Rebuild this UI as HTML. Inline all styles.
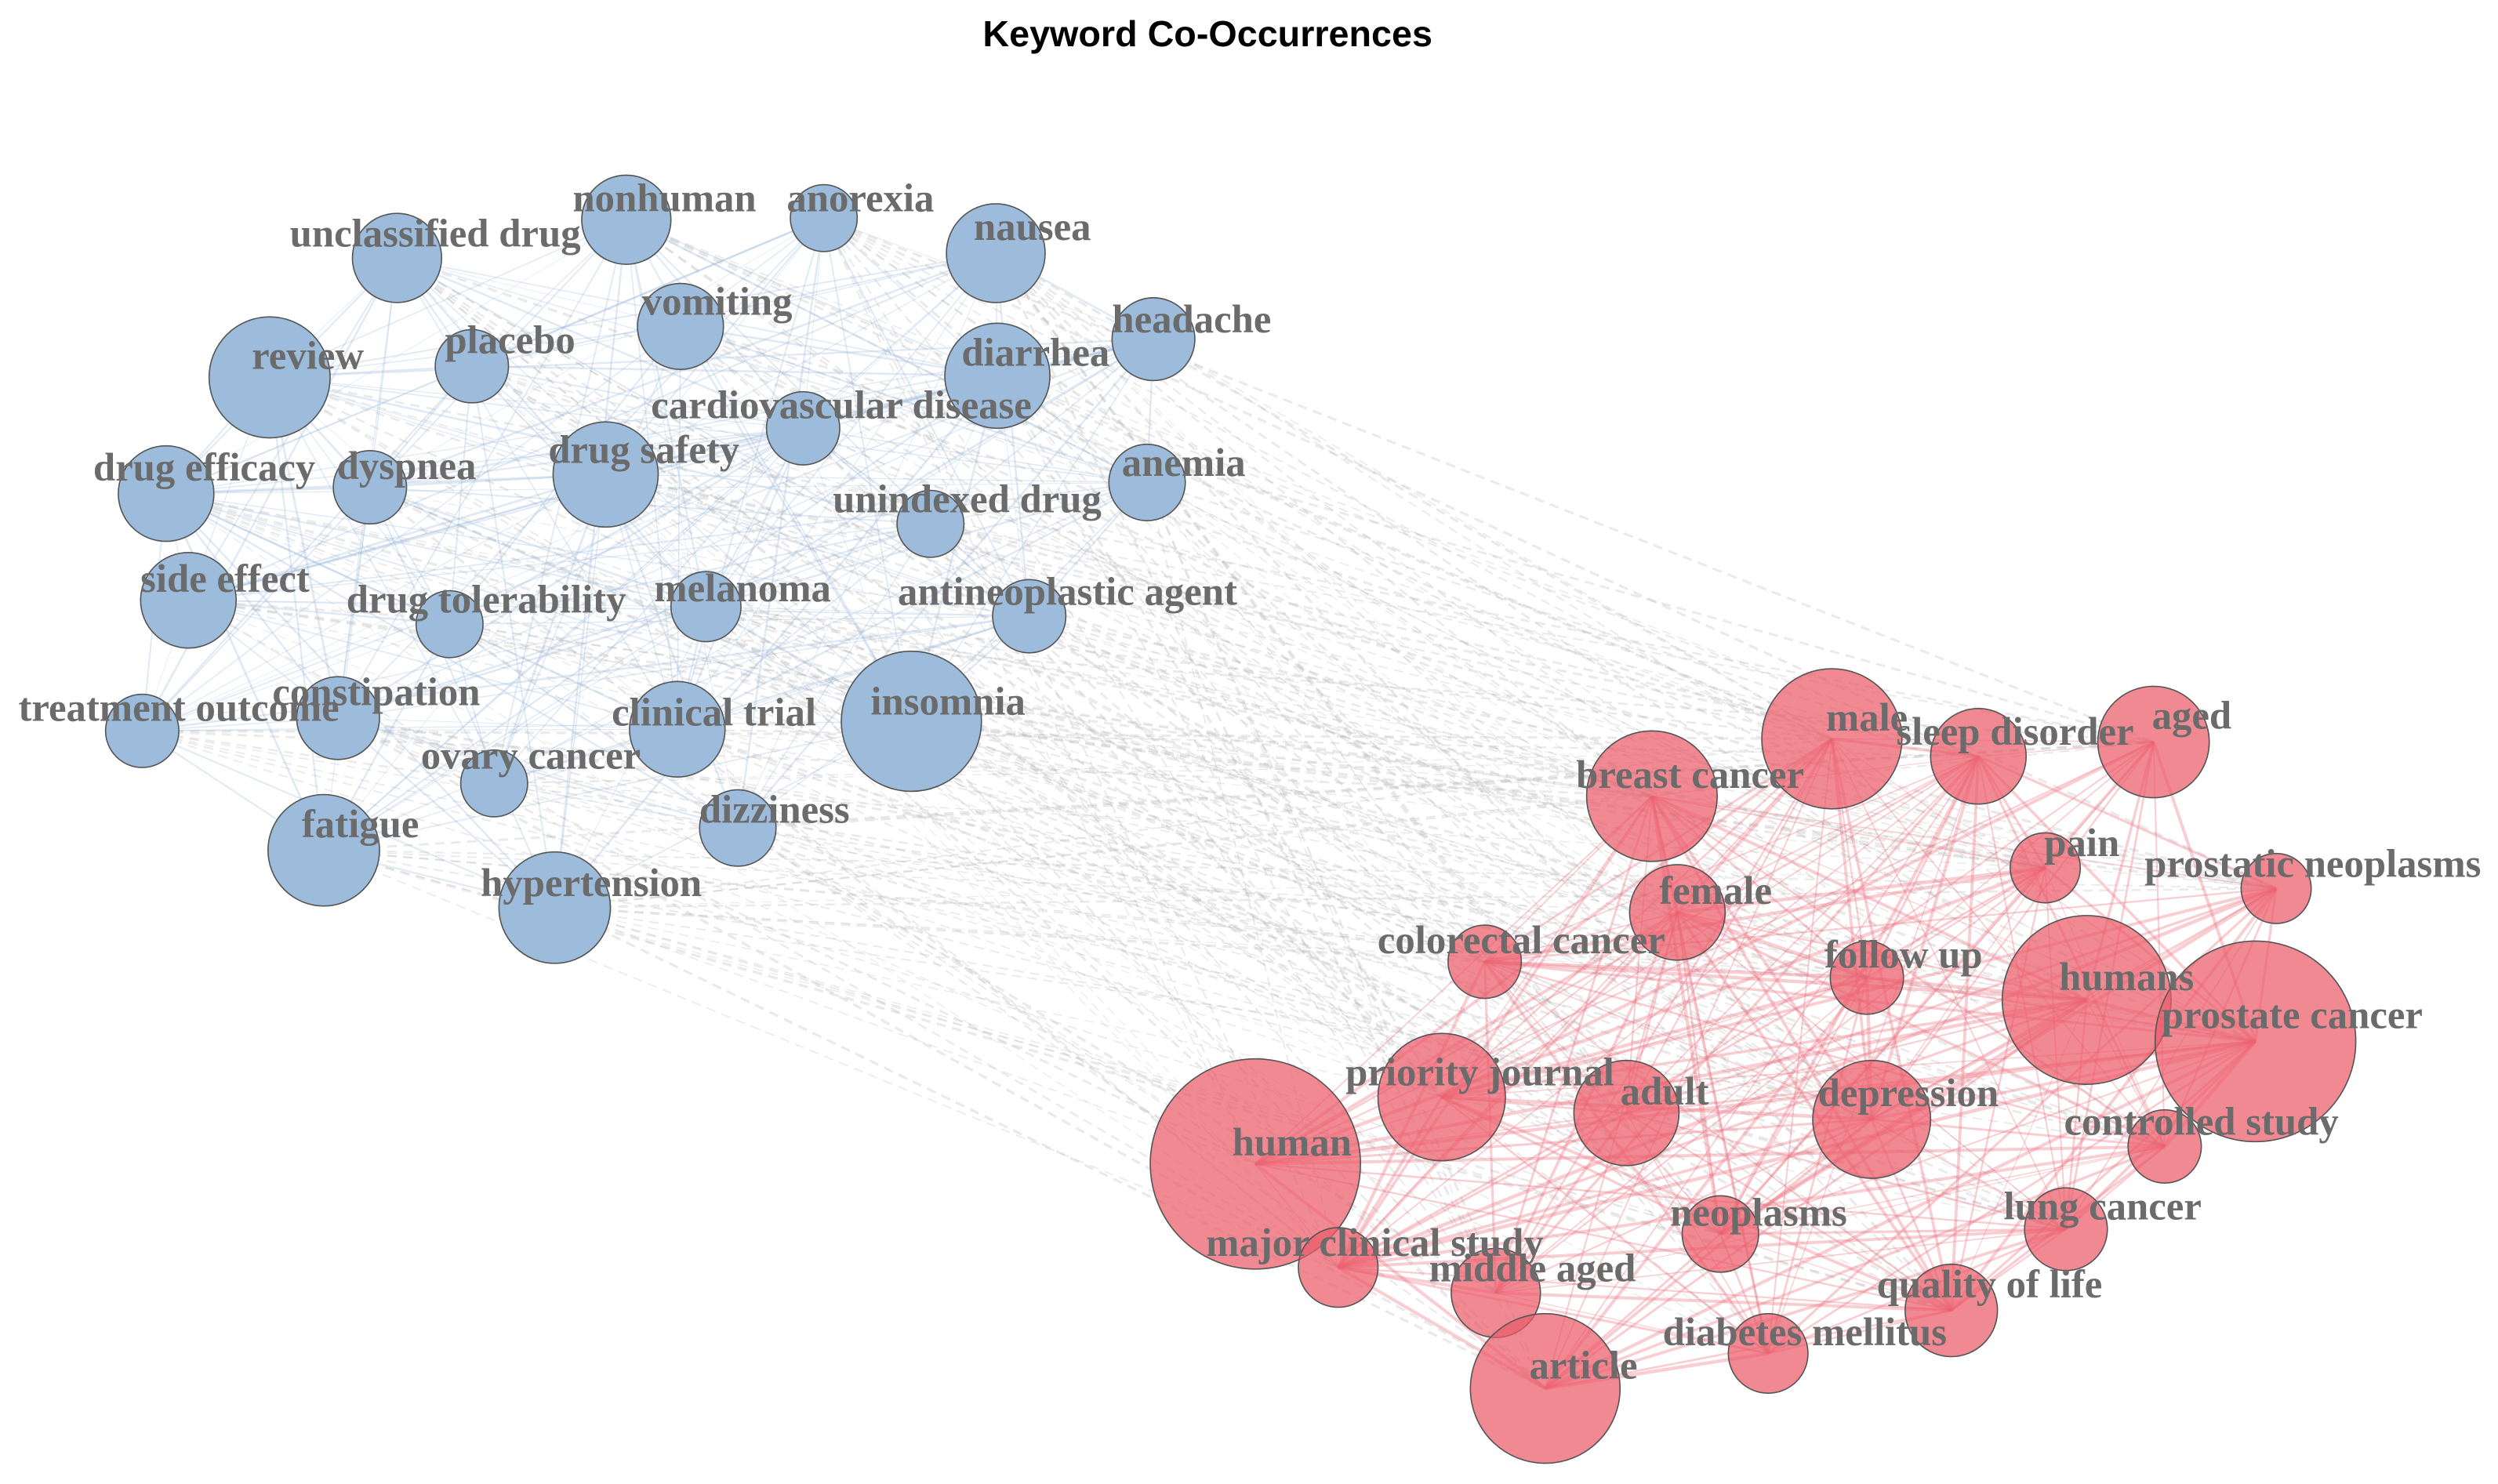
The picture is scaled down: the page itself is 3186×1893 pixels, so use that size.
<!DOCTYPE html>
<html><head><meta charset="utf-8">
<style>
html,body{margin:0;padding:0;background:#fff;}
svg{display:block;}
.lb{font-family:"Liberation Serif",serif;font-weight:bold;font-size:25px;fill:#6b6b6b;text-anchor:middle;dominant-baseline:middle;}
.t{font-family:"Liberation Sans",sans-serif;font-weight:bold;font-size:23px;fill:#000;text-anchor:middle;}
</style></head>
<body>
<svg id="s" width="3186" height="1893" viewBox="0 0 1568 932" xmlns="http://www.w3.org/2000/svg">
<rect width="1568" height="932" fill="#fff"/>
<text class="t" x="758" y="29">Keyword Co-Occurrences</text>
<g id="edges"></g>
<g id="nodes"></g>
<g id="labels">
<text class="lb" x="417" y="127">nonhuman</text>
<text class="lb" x="540" y="127">anorexia</text>
<text class="lb" x="273" y="149">unclassified drug</text>
<text class="lb" x="648" y="145">nausea</text>
<text class="lb" x="450" y="192">vomiting</text>
<text class="lb" x="193" y="226">review</text>
<text class="lb" x="320" y="216">placebo</text>
<text class="lb" x="650" y="224">diarrhea</text>
<text class="lb" x="748" y="203">headache</text>
<text class="lb" x="528" y="257">cardiovascular disease</text>
<text class="lb" x="404" y="285">drug safety</text>
<text class="lb" x="255" y="295">dyspnea</text>
<text class="lb" x="128" y="296">drug efficacy</text>
<text class="lb" x="743" y="293">anemia</text>
<text class="lb" x="607" y="316">unindexed drug</text>
<text class="lb" x="141" y="366">side effect</text>
<text class="lb" x="305" y="379">drug tolerability</text>
<text class="lb" x="466" y="372">melanoma</text>
<text class="lb" x="670" y="374">antineoplastic agent</text>
<text class="lb" x="112" y="447">treatment outcome</text>
<text class="lb" x="236" y="437">constipation</text>
<text class="lb" x="448" y="450">clinical trial</text>
<text class="lb" x="595" y="443">insomnia</text>
<text class="lb" x="333" y="477">ovary cancer</text>
<text class="lb" x="486" y="511">dizziness</text>
<text class="lb" x="226" y="520">fatigue</text>
<text class="lb" x="371" y="557">hypertension</text>
<text class="lb" x="1172" y="453">male</text>
<text class="lb" x="1265" y="462">sleep disorder</text>
<text class="lb" x="1376" y="452">aged</text>
<text class="lb" x="1061" y="489">breast cancer</text>
<text class="lb" x="1307" y="532">pain</text>
<text class="lb" x="1452" y="545">prostatic neoplasms</text>
<text class="lb" x="1077" y="562">female</text>
<text class="lb" x="955" y="593">colorectal cancer</text>
<text class="lb" x="1195" y="602">follow up</text>
<text class="lb" x="1335" y="616">humans</text>
<text class="lb" x="1439" y="640">prostate cancer</text>
<text class="lb" x="929" y="676">priority journal</text>
<text class="lb" x="1045" y="688">adult</text>
<text class="lb" x="1198" y="689">depression</text>
<text class="lb" x="811" y="720">human</text>
<text class="lb" x="1382" y="707">controlled study</text>
<text class="lb" x="1104" y="764">neoplasms</text>
<text class="lb" x="1320" y="760">lung cancer</text>
<text class="lb" x="863" y="783">major clinical study</text>
<text class="lb" x="962" y="799">middle aged</text>
<text class="lb" x="1249" y="809">quality of life</text>
<text class="lb" x="1133" y="839">diabetes mellitus</text>
<text class="lb" x="994" y="860">article</text>
</g>
</svg>
<script>
var B=[[393,138,28],[517,137,21],[249,162,28],[625,159,31],[427,205,27],[169,237,38],[296,230,23],[626,236,33],[724,213,26],[504,269,23],[380,298,33],[232,306,23],[104,310,30],[720,303,24],[584,329,21],[118,377,30],[282,392,21],[443,381,22],[646,387,23],[89,459,23],[212,451,26],[425,458,30],[572,453,44],[310,492,21],[463,520,24],[203,534,35],[348,570,35]];
var R=[[1150,464,44],[1242,475,30],[1352,466,35],[1037,500,41],[1284,545,22],[1429,558,22],[1053,573,30],[932,604,23],[1172,614,23],[1310,628,53],[1416,654,63],[905,689,40],[1021,699,33],[1175,703,37],[788,731,66],[1359,720,23],[1080,775,24],[1297,772,26],[840,796,25],[939,812,28],[1225,823,29],[1110,850,25],[970,872,47]];
var seed=7;function rnd(){seed=(seed*16807)%2147483647;return seed/2147483647;}
var ns="http://www.w3.org/2000/svg",E=document.getElementById("edges"),N=document.getElementById("nodes");
function line(a,b,c,w,op,d){var l=document.createElementNS(ns,"line");l.setAttribute("x1",a[0]);l.setAttribute("y1",a[1]);l.setAttribute("x2",b[0]);l.setAttribute("y2",b[1]);l.setAttribute("stroke",c);l.setAttribute("stroke-width",w);l.setAttribute("stroke-opacity",op);if(d)l.setAttribute("stroke-dasharray",d);E.appendChild(l);}
for(var i=0;i<B.length;i++)for(var j=0;j<R.length;j++){if(rnd()<0.35)line(B[i],R[j],"#b8b8b8",0.5+rnd()*1.2,0.3,"6,4");}
for(var i=0;i<B.length;i++)for(var j=i+1;j<B.length;j++){if(rnd()<0.65)line(B[i],B[j],"#9bb8dc",0.4+rnd()*1,0.3);}
for(var i=0;i<R.length;i++)for(var j=i+1;j<R.length;j++){if(rnd()<0.8)line(R[i],R[j],"#ef7482",0.5+rnd()*1.8,0.35);}
function circ(a,f){var c=document.createElementNS(ns,"circle");c.setAttribute("cx",a[0]);c.setAttribute("cy",a[1]);c.setAttribute("r",a[2]);c.setAttribute("fill",f);c.setAttribute("stroke","#555");c.setAttribute("stroke-width","0.8");N.appendChild(c);}
B.forEach(function(a){circ(a,"#9dbcdc");});
R.forEach(function(a){circ(a,"rgba(236,92,106,0.72)");});
</script>
</body></html>
